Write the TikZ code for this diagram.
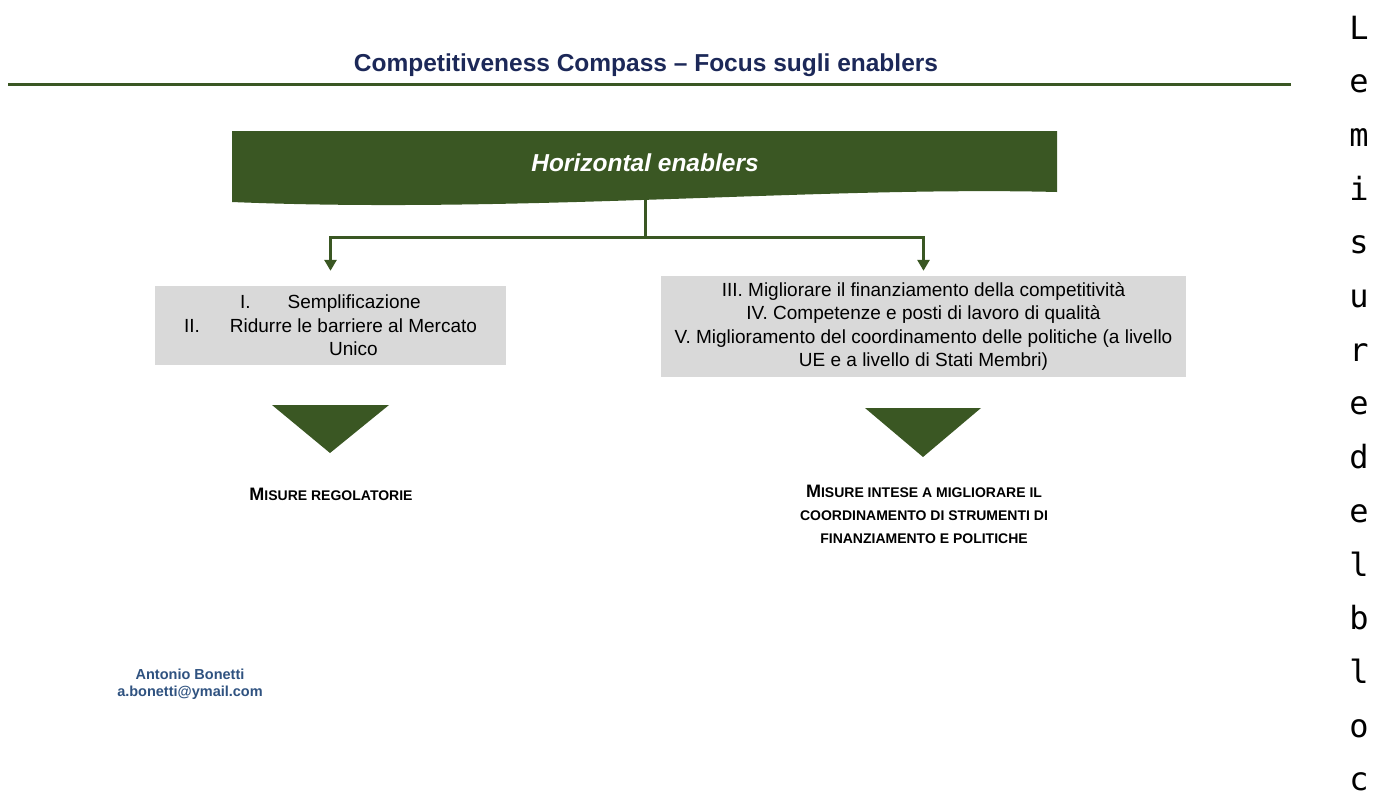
\documentclass[tikz,border=0pt]{standalone}
\usepackage{fontspec}
\setmainfont{Liberation Sans}
\newfontfamily\monofam{DejaVu Sans Mono}
\usetikzlibrary{arrows.meta}
\definecolor{dgreen}{RGB}{58,87,35}
\definecolor{navy}{RGB}{28,40,88}
\definecolor{authblue}{RGB}{47,82,128}
\definecolor{boxgray}{RGB}{217,217,217}
\newcommand\smcapline[2]{{\fontsize{18}{23}\selectfont #1}{\fontsize{14}{23}\selectfont #2}}
\newcommand\smcaps[1]{{\fontsize{14}{23}\selectfont #1}}
\begin{document}
\begin{tikzpicture}[x=1pt,y=-1pt,
  graybox/.style={fill=boxgray, inner sep=0pt, align=center, font=\fontsize{19}{23.3}\selectfont},
  conn/.style={draw=dgreen, line width=3pt},
  arr/.style={conn, -{Triangle[width=12pt,length=11pt]}},
  tri/.style={fill=dgreen},
  mlabel/.style={font=\bfseries\fontsize{14}{23}\selectfont, align=center, text=black},
  vletter/.style={anchor=base, inner sep=0pt, text depth=0pt, font=\monofam\fontsize{32}{32}\selectfont}
]
\useasboundingbox (0,0) rectangle (1373,796);
% title
\node[font=\bfseries\fontsize{24.5}{28}\selectfont, text=navy] (title) at (646,65.5) {Competitiveness Compass -- Focus sugli enablers};
\draw[dgreen, line width=3pt] (8,84) -- (1291,84);
% banner
\fill[dgreen] (232,131) -- (1057,131) -- (1057,192)
  .. controls (820,186) and (520,214) .. (232,202) -- cycle;
\node[font=\bfseries\itshape\fontsize{24.5}{28}\selectfont, text=white] (banner) at (645,163) {Horizontal enablers};
\coordinate (bb) at (645,199);
\coordinate (j) at (645,237);
% boxes
\node[graybox, minimum width=351pt, minimum height=79pt] (lbox) at (330.5,325.5)
  {I.\hspace{37pt}Semplificazione\\II.\hspace{30pt}Ridurre le barriere al Mercato\\\hspace*{46pt}Unico};
\node[graybox, minimum width=525pt, minimum height=101pt] (rbox) at (923.5,326.5)
  {III. Migliorare il finanziamento della competitività\\IV. Competenze e posti di lavoro di qualità\\V. Miglioramento del coordinamento delle politiche (a livello\\UE e a livello di Stati Membri)};
% connectors
\draw[conn] (bb) -- (j);
\draw[arr, shorten >=15pt] (j) -| (lbox.north);
\draw[arr, shorten >=5pt] (j) -| (rbox.north);
% triangles
\fill[tri] (272,405) -- (389,405) -- (330,453) -- cycle;
\fill[tri] (865,408) -- (981,408) -- (923,457) -- cycle;
% labels
\node[mlabel] (lmis) at (331,494) {\smcapline{M}{ISURE REGOLATORIE}};
\node[mlabel] (rmis) at (924,514) {\smcapline{M}{ISURE INTESE A MIGLIORARE IL}\\\smcaps{COORDINAMENTO DI STRUMENTI DI}\\\smcaps{FINANZIAMENTO E POLITICHE}};
% author
\node[font=\bfseries\fontsize{14.5}{17}\selectfont, text=authblue, align=center] (author) at (190,684) {Antonio Bonetti\\a.bonetti@ymail.com};
% vertical letters
\foreach \ch [count=\i from 0] in {L,e,m,i,s,u,r,e,d,e,l,b,l,o,c}
  \node[vletter] (v\i) at (1359,{39+53.7*\i}) {\ch};
\end{tikzpicture}
\end{document}
